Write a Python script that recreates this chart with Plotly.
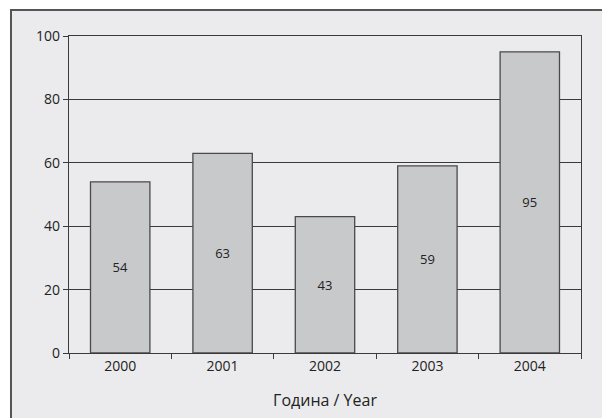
import plotly.graph_objects as go

# Annual values
years = ["2000", "2001", "2002", "2003", "2004"]
values = [54, 63, 43, 59, 95]
y_ticks = [0, 20, 40, 60, 80, 100]

FONT = "Open Sans, Noto Sans, sans-serif"
LINE = "#3a3a3a"

fig = go.Figure(
    go.Bar(
        x=years,
        y=values,
        text=[str(v) for v in values],
        textposition="inside",
        insidetextanchor="middle",
        textfont=dict(family=FONT, size=13, color="#222222"),
        marker=dict(color="#c8c9cb", line=dict(color="#4a4a4a", width=1.3)),
        width=0.58,
        showlegend=False,
        hoverinfo="x+y",
    )
)

# Light grey panel with a dark frame behind the plot area
fig.add_shape(
    type="rect", xref="paper", yref="paper",
    x0=-0.1133, x1=1.2, y0=-0.3, y1=1.082,
    fillcolor="#ebebed", line=dict(color="#555555", width=2),
    layer="below",
)

fig.update_layout(
    width=602,
    height=418,
    margin=dict(l=69, r=21, t=36, b=65),
    paper_bgcolor="white",
    plot_bgcolor="white",
    font=dict(family=FONT, size=14, color="#222222"),
    xaxis=dict(
        type="category",
        showline=True, linecolor=LINE, linewidth=1.3, mirror=True,
        ticks="outside", tickson="boundaries", ticklen=5, tickcolor=LINE,
        showgrid=False,
        tickfont=dict(family=FONT, size=14, color="#222222"),
        title=dict(text="Година / Year", font=dict(family=FONT, size=16, color="#222222"), standoff=20),
    ),
    yaxis=dict(
        range=[0, 100],
        tickvals=y_ticks,
        showline=True, linecolor=LINE, linewidth=1.3, mirror=True,
        ticks="outside", ticklen=5, tickcolor=LINE,
        showgrid=True, gridcolor=LINE, gridwidth=1,
        zeroline=False,
        tickfont=dict(family=FONT, size=14, color="#222222"),
    ),
)

fig.write_html("out.html")
